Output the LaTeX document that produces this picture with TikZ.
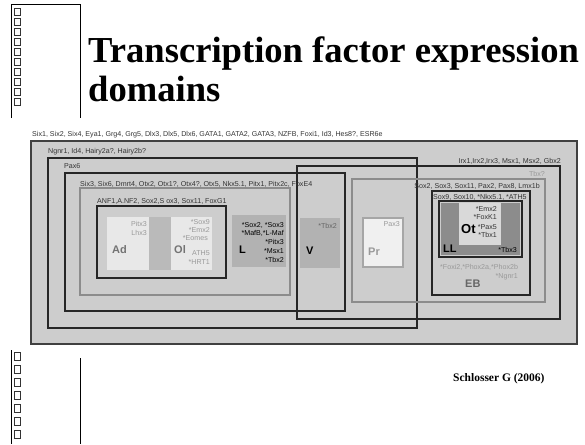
\documentclass[tikz,border=0pt]{standalone}
\usepackage{fontspec}
\setmainfont{Liberation Serif}
\setsansfont{Liberation Sans}
\definecolor{scan}{HTML}{CDCDCD}
\definecolor{lightcell}{HTML}{E8E8E8}
\definecolor{midcell}{HTML}{B2B2B2}
\definecolor{darkcell}{HTML}{8C8C8C}
\newcommand{\genefont}{\sffamily\fontsize{7.1}{7.5}\selectfont}
\newcommand{\organfont}{\sffamily\bfseries\fontsize{11}{11}\selectfont}
\begin{document}
\begin{tikzpicture}[x=1pt,y=-1pt,
    blackbox/.style={draw=black!85,line width=2pt},
    greybox/.style={draw=black!45,line width=1.5pt},
    gene/.style={font=\genefont,text=black!80,inner sep=0pt},
    faint/.style={gene,text=black!40},
    organ/.style={font=\organfont,inner sep=0pt},
    tofu/.style={draw=black!80,line width=0.5pt}]
  \useasboundingbox (0,0) rectangle (585,444);

  % slide margin, top and bottom
  \draw[line width=0.6pt] (11,118)--(11,4)--(80,4)--(80,118);
  \foreach \k in {0,...,9} \draw[tofu] (14,8+10*\k) rectangle ++(6,7);
  \draw[line width=0.6pt] (11,350)--(11,444);
  \draw[line width=0.6pt] (80,358)--(80,444);
  \foreach \k in {0,...,6} \draw[tofu] (14,352+13*\k) rectangle ++(6,8);

  \node[anchor=base west,font=\bfseries\fontsize{36.6}{37}\selectfont,inner sep=0pt] (title1) at (88,63) {Transcription factor expression};
  \node[anchor=base west,font=\bfseries\fontsize{36.6}{37}\selectfont,inner sep=0pt] (title2) at (88,101) {domains};
  \node[anchor=base west,font=\bfseries\fontsize{11.5}{12}\selectfont,inner sep=0pt] (credit) at (453,381) {Schlosser G (2006)};

  % fills
  \fill[scan] (31,141) rectangle (577,344);
  \fill[lightcell] (107,217) rectangle (149,270);
  \fill[black!27] (149,217) rectangle (171,270);
  \fill[lightcell] (171,217) rectangle (212,270);
  \fill[midcell] (232,215) rectangle (286,267);
  \fill[midcell] (300,218) rectangle (340,268);
  \fill[black!6] (363,218) rectangle (403,267);
  \draw[black!35,line width=1.2pt] (363,218) rectangle (403,267);
  \fill[darkcell] (441,203) rectangle (520,255);
  \fill[black!15] (459,203) rectangle (501,245);

  % domains
  \draw[draw=black!75,line width=2.5pt] (31,141) rectangle (577,344);
  \draw[blackbox] (48,158) rectangle (417,328);
  \draw[blackbox] (65,173) rectangle (345,311);
  \draw[greybox] (80,188) rectangle (290,295);
  \draw[blackbox] (97,206) rectangle (226,278);
  \draw[blackbox] (297,166) rectangle (560,319);
  \draw[greybox] (352,179) rectangle (545,302);
  \draw[blackbox] (432,191) rectangle (530,295);
  \draw[blackbox] (439,201) rectangle (522,257);

  % domain labels
  \node[gene,anchor=base west] (lblSix) at (32,136) {Six1, Six2, Six4, Eya1, Grg4, Grg5, Dlx3, Dlx5, Dlx6, GATA1, GATA2, GATA3, NZFB, Foxi1, Id3, Hes8?, ESR6e};
  \node[gene,anchor=base west] (lblNgnr) at (48,153) {Ngnr1, Id4, Hairy2a?, Hairy2b?};
  \node[gene,anchor=base west] (lblPax) at (64,168) {Pax6};
  \node[gene,anchor=base west] (lblSixt) at (80,186) {Six3, Six6, Dmrt4, Otx2, Otx1?, Otx4?, Otx5, Nkx5.1, Pitx1, Pitx2c, FoxE4};
  \node[gene,anchor=base west] (lblAnf) at (97,203) {ANF1,A.NF2, Sox2,S ox3, Sox11, FoxG1};
  \node[gene,anchor=base east] (lblIrx) at (561,163) {Irx1,Irx2,Irx3, Msx1, Msx2, Gbx2};
  \node[faint,anchor=base east] (lblTbx) at (545,176) {Tbx?};
  \node[gene,anchor=base east] (lblSoxb) at (540,188) {Sox2, Sox3, Sox11, Pax2, Pax8, Lmx1b};
  \node[gene,anchor=base west] (lblSoxe) at (433,199) {Sox9, Sox10, *Nkx5.1, *ATH5};

  % Ad
  \node[faint,anchor=base east] (adA) at (147,226) {Pitx3};
  \node[faint,anchor=base east] (adB) at (147,235) {Lhx3};
  \node[organ,text=black!55,anchor=base west] (Ad) at (112,253) {Ad};
  % Ol
  \node[faint,anchor=base east] (olA) at (210,224) {*Sox9};
  \node[faint,anchor=base east] (olB) at (210,232) {*Emx2};
  \node[faint,anchor=base east] (olC) at (208,240) {*Eomes};
  \node[faint,anchor=base east] (olD) at (210,255) {ATH5};
  \node[faint,anchor=base east] (olE) at (210,264) {*HRT1};
  \node[organ,text=black!55,anchor=base west] (Ol) at (174,253) {Ol};
  % L
  \node[gene,text=black,anchor=base east] (lA) at (284,227) {*Sox2, *Sox3};
  \node[gene,text=black,anchor=base east] (lB) at (284,235) {*MafB,*L-Maf};
  \node[gene,text=black,anchor=base east] (lC) at (284,244) {*Pitx3};
  \node[gene,text=black,anchor=base east] (lD) at (284,253) {*Msx1};
  \node[gene,text=black,anchor=base east] (lE) at (284,262) {*Tbx2};
  \node[organ,anchor=base west] (L) at (239,253) {L};
  % V
  \node[gene,text=black!60,anchor=base east] (vA) at (337,228) {*Tbx2};
  \node[organ,anchor=base west] (V) at (306,254) {V};
  % Pr
  \node[faint,anchor=base east] (prA) at (400,226) {Pax3};
  \node[organ,text=black!40,anchor=base west] (Pr) at (368,255) {Pr};
  % Ot and LL
  \node[gene,anchor=base east] (otA) at (497,211) {*Emx2};
  \node[gene,anchor=base east] (otB) at (497,219) {*FoxK1};
  \node[gene,anchor=base east] (otC) at (497,229) {*Pax5};
  \node[gene,anchor=base east] (otD) at (497,237) {*Tbx1};
  \node[organ,anchor=base west,font=\sffamily\bfseries\fontsize{13}{13}\selectfont] (Ot) at (461,233) {Ot};
  \node[organ,anchor=base west] (LL) at (443,252) {LL};
  \node[gene,text=black,anchor=base east] (llA) at (517,252) {*Tbx3};
  % EB
  \node[faint,anchor=base west] (ebA) at (440,269) {*Foxi2,*Phox2a,*Phox2b};
  \node[faint,anchor=base east] (ebB) at (518,278) {*Ngnr1};
  \node[organ,text=black!60,anchor=base west] (EB) at (465,287) {EB};
\end{tikzpicture}
\end{document}
